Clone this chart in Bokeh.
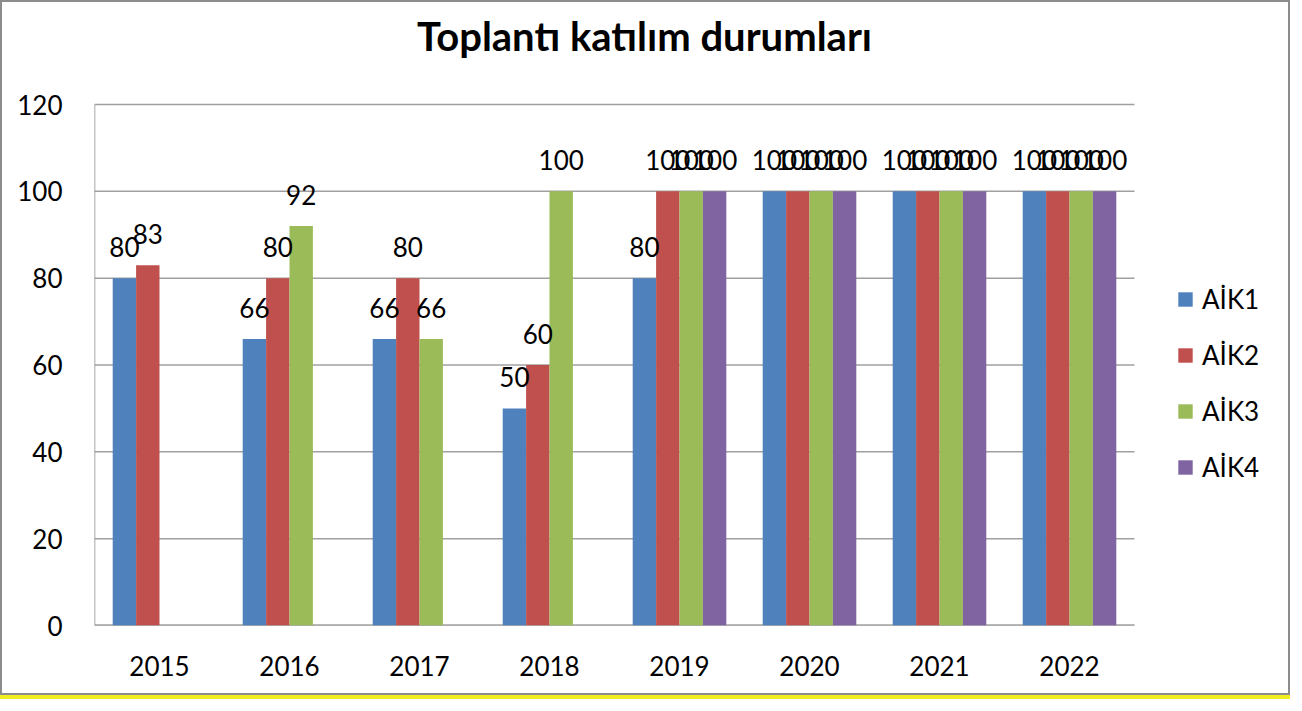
from bokeh.plotting import figure
from bokeh.models import ColumnDataSource, Range1d, FixedTicker, Legend, LegendItem, Label
from bokeh.core.properties import value
from bokeh.embed import file_html
from bokeh.resources import INLINE

# ---- data ----
years = ["2015", "2016", "2017", "2018", "2019", "2020", "2021", "2022"]
aik1 = [80, 66, 66, 50, 80, 100, 100, 100]
aik2 = [83, 80, 80, 60, 100, 100, 100, 100]
aik3 = [None, 92, 66, 100, 100, 100, 100, 100]
aik4 = [None, None, None, None, 100, 100, 100, 100]
series_names = ["AİK1", "AİK2", "AİK3", "AİK4"]
series_values = [aik1, aik2, aik3, aik4]
colors = ["#4F81BD", "#C0504D", "#9BBB59", "#8064A2"]
y_ticks = [0, 20, 40, 60, 80, 100, 120]
title_text = "Toplantı katılım durumları"

FONT = "Lato"
W, H = 1290, 695
# plot-area box in canvas pixels
PL, PR, PT, PB = 92, 1132, 102, 623
ML, MB = PL, H - PB            # frame extends to right and top canvas edges
FW, FH = W - ML, PB            # frame size
n = len(years)
ymax = y_ticks[-1]
x_end = n * FW / (PR - PL)
y_end = ymax * FH / (PB - PT)

p = figure(x_range=Range1d(0, x_end), y_range=Range1d(0, y_end),
           width=W, height=H, output_backend="svg", toolbar_location=None,
           min_border_left=ML, min_border_right=0, min_border_top=0, min_border_bottom=MB)
p.title.text = ""
p.outline_line_color = None
p.background_fill_color = "white"
p.border_fill_color = "white"
p.styles = {"border": "2px solid #8c8c8c", "box-shadow": "0 4px 0 0 #f2ee1f"}
p.xgrid.grid_line_color = None
p.ygrid.grid_line_color = None

# gridlines and axis lines inside the plot area
p.segment(x0=[0] * len(y_ticks), x1=[n] * len(y_ticks), y0=y_ticks, y1=y_ticks,
          line_color="#a0a0a0", line_width=1.5)
p.segment(x0=[0], x1=[0], y0=[0], y1=[ymax], line_color="#8c8c8c", line_width=1.5)
p.segment(x0=[0], x1=[n], y0=[0], y1=[0], line_color="#8c8c8c", line_width=2)

offsets = [-0.27, -0.09, 0.09, 0.27]
bar_w = 0.18
items = []
srcs = []
for name, vals, col, off in zip(series_names, series_values, colors, offsets):
    xs = [i + 0.5 + off for i, v in enumerate(vals) if v is not None]
    vs = [v for v in vals if v is not None]
    src = ColumnDataSource(dict(x=xs, val=vs, label=[str(v) for v in vs]))
    r = p.vbar(x="x", top="val", width=bar_w, bottom=0,
               source=src, fill_color=col, line_color=None)
    srcs.append(src)
    items.append(LegendItem(label=name, renderers=[r]))

for src in srcs:
    p.text(x="x", y="val", text="label", source=src,
           text_align="center", text_baseline="alphabetic", y_offset=-31,
           text_font=value(FONT), text_font_size="26px", text_color="black")

# axes (labels only)
p.yaxis.ticker = FixedTicker(ticks=y_ticks)
p.yaxis.major_tick_line_color = None
p.yaxis.minor_tick_line_color = None
p.yaxis.major_tick_out = 0
p.yaxis.major_label_standoff = 32
p.yaxis.axis_line_color = None

xt = [i + 0.5 for i in range(n)]
p.xaxis.ticker = FixedTicker(ticks=xt)
p.xaxis.major_label_overrides = {t: y for t, y in zip(xt, years)}
p.xaxis.major_tick_line_color = None
p.xaxis.minor_tick_line_color = None
p.xaxis.major_tick_out = 0
p.xaxis.major_label_standoff = 30
p.xaxis.axis_line_color = None
for ax in (p.xaxis, p.yaxis):
    ax.major_label_text_font = FONT
    ax.major_label_text_font_size = "26px"
    ax.major_label_text_color = "black"

legend = Legend(items=items, location=(1174 - ML, PB - 481), orientation="vertical",
                glyph_width=18, glyph_height=18, label_height=31, spacing=24,
                label_standoff=8, padding=0, margin=0,
                border_line_color=None, background_fill_alpha=0,
                label_text_font=FONT, label_text_font_size="26px", label_text_color="black")
p.add_layout(legend, "center")

title = Label(x=650 - 8 - ML, y=PB - 33, x_units="screen", y_units="screen", text=title_text,
              text_align="center", text_baseline="alphabetic",
              text_font=FONT, text_font_style="bold", text_font_size="40px", text_color="black")
p.add_layout(title)

open("out.html", "w").write(file_html(p, INLINE))
